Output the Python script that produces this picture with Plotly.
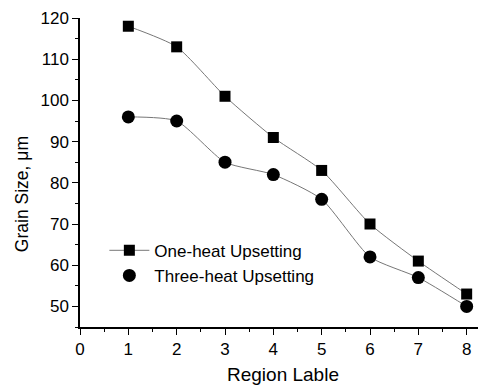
import plotly.graph_objects as go

regions = [1, 2, 3, 4, 5, 6, 7, 8]
one_heat = [118, 113, 101, 91, 83, 70, 61, 53]
three_heat = [96, 95, 85, 82, 76, 62, 57, 50]
x_ticks = [0, 1, 2, 3, 4, 5, 6, 7, 8]
y_ticks = [50, 60, 70, 80, 90, 100, 110, 120]

fig = go.Figure()
fig.add_trace(go.Scatter(
    x=regions, y=one_heat, mode="lines+markers", name="One-heat Upsetting",
    line=dict(color="#777777", width=1, shape="spline", smoothing=0.6),
    marker=dict(symbol="square", size=11, color="black"),
))
fig.add_trace(go.Scatter(
    x=regions, y=three_heat, mode="lines+markers", name="Three-heat Upsetting",
    line=dict(color="#777777", width=1, shape="spline", smoothing=0.6),
    marker=dict(symbol="circle", size=13, color="black"),
    showlegend=False,
))
fig.add_trace(go.Scatter(
    x=[None], y=[None], mode="markers", name="Three-heat Upsetting",
    marker=dict(symbol="circle", size=13, color="black"),
))

# page body has an 8px margin, so the figure is offset by 8px
font = dict(family="Liberation Sans, Arial, sans-serif", size=17, color="black")
fig.update_layout(
    width=478, height=381,
    margin=dict(l=72, r=0, t=10, b=62),
    paper_bgcolor="white", plot_bgcolor="white",
    font=font,
    showlegend=True,
    legend=dict(x=0.06, y=0.305, xanchor="left", yanchor="top",
                bgcolor="rgba(0,0,0,0)", font=dict(size=17), tracegroupgap=0,
                itemwidth=40),
    xaxis=dict(range=[0, 8.4], tickvals=x_ticks, showgrid=False, zeroline=False,
               automargin=False,
               showline=True, linecolor="black", linewidth=1.5,
               ticks="outside", ticklen=6, tickcolor="black",
               minor=dict(ticks="outside", dtick=0.5, ticklen=3, tickcolor="black"),
               title=dict(text="Region Lable", font=dict(size=19), standoff=10)),
    yaxis=dict(range=[45, 120], tickvals=y_ticks, showgrid=False, zeroline=False,
               automargin=False,
               showline=True, linecolor="black", linewidth=1.5,
               ticks="outside", ticklen=6, tickcolor="black",
               minor=dict(ticks="outside", dtick=5, tick0=45, ticklen=3, tickcolor="black")),
    annotations=[dict(text="Grain Size, μm", textangle=-90, xref="paper", yref="paper",
                      x=0, y=0.43, xanchor="center", yanchor="middle", xshift=-58,
                      showarrow=False, font=dict(size=17.5))],
)
fig.write_html("out.html")
